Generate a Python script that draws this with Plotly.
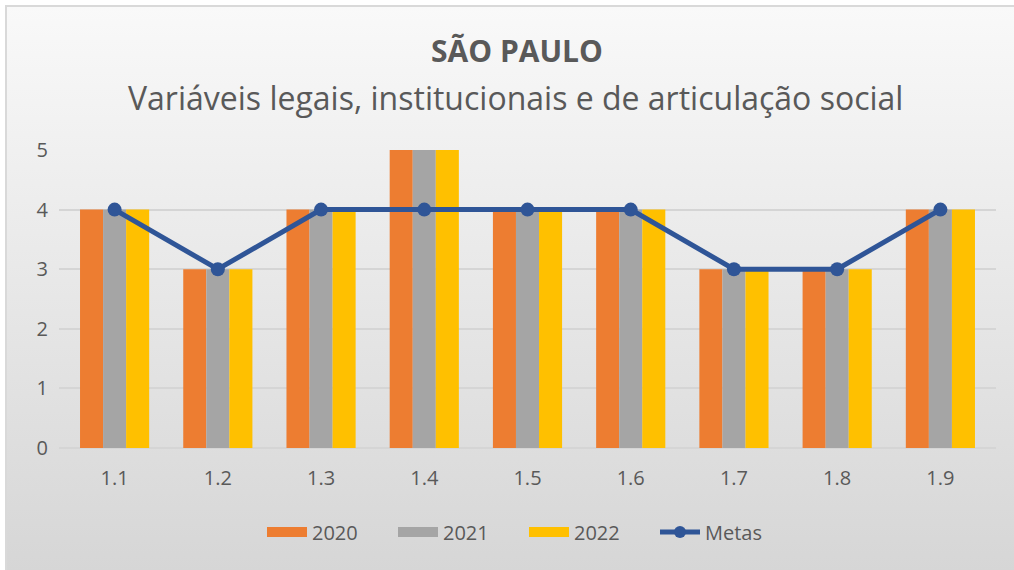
import plotly.graph_objects as go

categories = ['1.1', '1.2', '1.3', '1.4', '1.5', '1.6', '1.7', '1.8', '1.9']
values_2020 = [4, 3, 4, 5, 4, 4, 3, 3, 4]
values_2021 = [4, 3, 4, 5, 4, 4, 3, 3, 4]
values_2022 = [4, 3, 4, 5, 4, 4, 3, 3, 4]
metas = [4, 3, 4, 4, 4, 4, 3, 3, 4]

FONT = 'Open Sans'
TEXT_GREY = '#595959'
COLORS = {'2020': '#ED7D31', '2021': '#A5A5A5', '2022': '#FFC000', 'Metas': '#2F5597'}

# gradient background, inline svg so no network needed
gradient_svg = (
    "data:image/svg+xml;utf8,"
    "<svg xmlns='http://www.w3.org/2000/svg' width='100' height='100' preserveAspectRatio='none'>"
    "<defs><linearGradient id='g' x1='0' y1='0' x2='0' y2='1'>"
    "<stop offset='0' stop-color='%23F9F9F9'/><stop offset='1' stop-color='%23D6D6D6'/>"
    "</linearGradient></defs>"
    "<rect width='100' height='100' fill='url(%23g)'/></svg>"
)

# plot area in pixels: x 59..996, y 150..448
L, R, T, B = 59, 18, 150, 122
W, H = 1014, 570
pw, ph = W - L - R, H - T - B


def px_x(x):
    return (x - L) / pw


def px_y(y):
    return (H - B - y) / ph


fig = go.Figure()
for name, vals in [('2020', values_2020), ('2021', values_2021), ('2022', values_2022)]:
    fig.add_trace(go.Bar(x=categories, y=vals, name=name, legendgroup=name, showlegend=False,
                         marker=dict(color=COLORS[name], line=dict(width=0))))
fig.add_trace(go.Scatter(x=categories, y=metas, name='Metas', mode='lines+markers', legendgroup='Metas',
                         showlegend=False, line=dict(color=COLORS['Metas'], width=5),
                         marker=dict(color=COLORS['Metas'], size=14)))

# legend entries: wide flat swatches like the original
for name in ['2020', '2021', '2022']:
    fig.add_trace(go.Scatter(x=[None], y=[None], mode='lines', name=name, legendgroup=name,
                             line=dict(color=COLORS[name], width=12)))
fig.add_trace(go.Scatter(x=[None], y=[None], mode='lines+markers', name='Metas', legendgroup='Metas',
                         line=dict(color=COLORS['Metas'], width=5),
                         marker=dict(color=COLORS['Metas'], size=12)))

fig.update_layout(
    width=W, height=H,
    margin=dict(l=L, r=R, t=T, b=B, autoexpand=False),
    paper_bgcolor='white',
    plot_bgcolor='rgba(0,0,0,0)',
    barmode='group',
    bargap=0.33,
    bargroupgap=0,
    font=dict(family=FONT, color=TEXT_GREY, size=20),
    showlegend=True,
    legend=dict(orientation='h', xref='container', yref='container', x=262 / W, xanchor='left',
                y=1 - 532 / H, yanchor='middle', font=dict(size=20, color=TEXT_GREY),
                bgcolor='rgba(0,0,0,0)', itemwidth=40, entrywidth=76, traceorder='normal'),
    xaxis=dict(showgrid=False, showline=False, ticks='', automargin=False,
               tickfont=dict(size=20, color=TEXT_GREY), ticklabelstandoff=16),
    yaxis=dict(range=[0, 5], dtick=1, showgrid=True, gridcolor='#D5D5D5', gridwidth=1.5,
               zeroline=True, zerolinecolor='#D5D5D5', zerolinewidth=1.5, showline=False,
               automargin=False, tickfont=dict(size=20, color=TEXT_GREY), ticklabelstandoff=10),
    images=[dict(source=gradient_svg, xref='paper', yref='paper',
                 x=px_x(6), y=px_y(6), sizex=px_x(W + 2) - px_x(6), sizey=px_y(6) - px_y(H + 2),
                 xanchor='left', yanchor='top', sizing='stretch', layer='below')],
    shapes=[dict(type='rect', xref='paper', yref='paper',
                 x0=px_x(6), x1=px_x(W + 4), y0=px_y(H + 4), y1=px_y(6),
                 line=dict(color='#D9D9D9', width=2), fillcolor='rgba(0,0,0,0)', layer='below')],
    annotations=[
        dict(text='<b>SÃO PAULO</b>', xref='paper', yref='paper', x=px_x(517),
             y=px_y(50), xanchor='center', yanchor='middle', showarrow=False,
             font=dict(family=FONT, size=30, color=TEXT_GREY)),
        dict(text='Variáveis legais, institucionais e de articulação social', xref='paper', yref='paper',
             x=px_x(515), y=px_y(97), xanchor='center', yanchor='middle',
             showarrow=False, font=dict(family=FONT, size=32, color=TEXT_GREY)),
    ],
)

# drop the default 8px body margin so the figure sits flush in the window
fig.write_html('out.html', config={'displayModeBar': False},
               post_script="document.body.style.margin='0';")
